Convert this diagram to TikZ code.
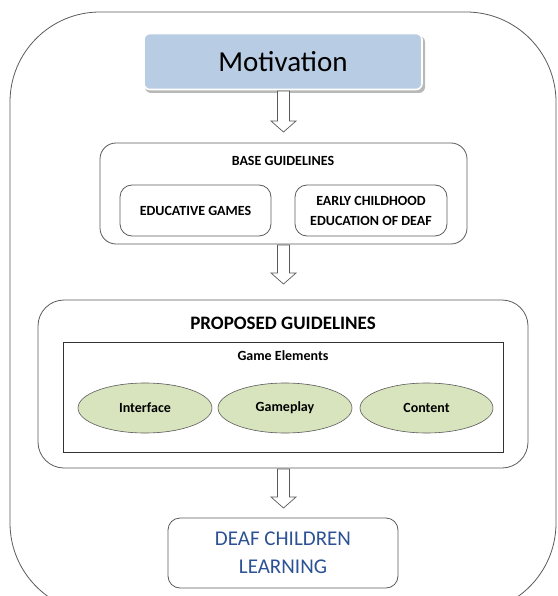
\documentclass[tikz,border=0pt]{standalone}
\usepackage{fontspec}
\setmainfont{Carlito}
\usetikzlibrary{calc,shapes.geometric}
\definecolor{motblue}{RGB}{184,204,228}
\definecolor{ellgreen}{RGB}{215,228,189}
\definecolor{txtblue}{RGB}{44,82,148}
\definecolor{linegray}{RGB}{90,90,90}
\tikzset{
  rbox/.style={draw=linegray, line width=0.8pt, rounded corners=#1},
  elem/.style={ellipse, draw=linegray, line width=0.6pt, fill=ellgreen, minimum width=134pt, minimum height=50pt, inner sep=0pt, font=\bfseries\fontsize{14}{16}\selectfont},
  hollow/.style={draw=linegray, line width=0.7pt, fill=white},
}
\newcommand{\blockarrow}[2]{%
  \draw[hollow] ($(#1)+(-6,0)$) -- ++(0,#2) -- ++(-6.5,0) -- ++(12.5,11) -- ++(12.5,-11) -- ++(-6.5,0) -- ++(0,-#2) -- cycle;}
\begin{document}
\begin{tikzpicture}[x=1pt,y=-1pt]
\useasboundingbox (0,0) rectangle (557,596);
\clip (0,0) rectangle (557,596);
% outer frame
\draw[rbox=90] (10,12) rectangle (556,613);
% motivation
\fill[gray!55, rounded corners=6] (145,36) rectangle (425,93);
\node[draw=white, line width=1.6pt, fill=motblue, rounded corners=6, minimum width=278pt, minimum height=56pt, inner sep=0pt, font=\fontsize{29}{32}\selectfont] (mot) at (283,61.5) {Motivation};
% base guidelines
\node[rbox=16, minimum width=367pt, minimum height=101pt, inner sep=0pt] (base) at (283.5,193.5) {};
\node[font=\bfseries\fontsize{14}{16}\selectfont] (basetitle) at (283,161) {BASE GUIDELINES};
\node[rbox=12, minimum width=151pt, minimum height=51pt, inner sep=0pt, font=\bfseries\fontsize{14}{16}\selectfont] (edu) at (195.5,210.5) {EDUCATIVE GAMES};
\node[rbox=12, minimum width=152pt, minimum height=51pt, inner sep=0pt, align=center, font=\bfseries\fontsize{14}{20}\selectfont] (early) at (371,210.5) {EARLY CHILDHOOD\\EDUCATION OF DEAF};
% proposed guidelines
\node[rbox=26, minimum width=490pt, minimum height=168pt, inner sep=0pt] (prop) at (283,384) {};
\node[font=\bfseries\fontsize{19}{22}\selectfont] (proptitle) at (283,323) {PROPOSED GUIDELINES};
\node[draw=black!80, line width=0.7pt, minimum width=440pt, minimum height=110pt, inner sep=0pt] (ge) at (283,397) {};
\node[font=\bfseries\fontsize{14}{16}\selectfont] (getitle) at (283,356) {Game Elements};
\node[elem] (iface) at (145,408) {Interface};
\node[elem] (gplay) at (285,408) {Gameplay};
\node[elem, minimum width=133pt] (content) at (426.5,408) {Content};
% result
\node[rbox=12, minimum width=230pt, minimum height=70pt, inner sep=0pt, align=center, text=txtblue, font=\fontsize{21}{28}\selectfont] (deaf) at (283,553) {DEAF CHILDREN\\LEARNING};
% arrows
\blockarrow{283.5,91}{30}
\blockarrow{283.5,245}{28}
\blockarrow{283.5,469}{28}
\end{tikzpicture}
\end{document}
